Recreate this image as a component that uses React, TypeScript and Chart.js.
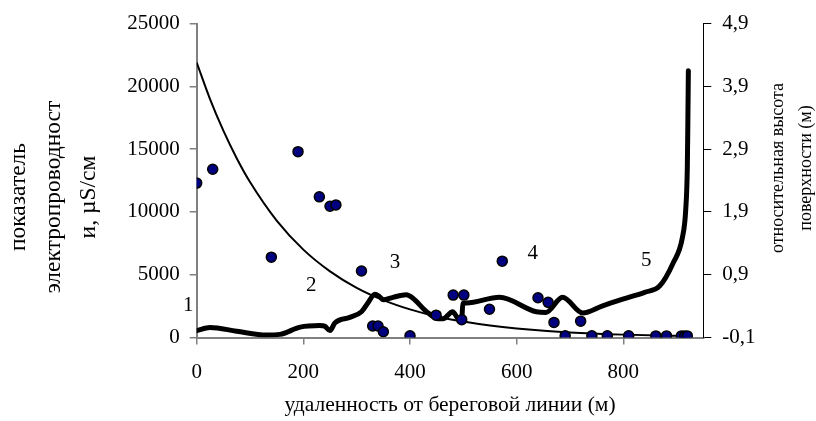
import React, { useEffect, useRef } from "react";
import { Chart, registerables } from "chart.js";

Chart.register(...registerables);

// Measured conductivity points (distance m, µS/cm)
const pointDistance = [0, 30, 140, 190, 230, 250, 261, 309, 330, 340, 350, 400, 449, 481, 497, 501, 549, 573, 640, 659, 670, 691, 720, 741, 770, 810, 861, 881, 909, 915, 920];
const pointConductivity = [12300, 13400, 6400, 14800, 11200, 10450, 10560, 5300, 920, 920, 460, 130, 1780, 3380, 1420, 3380, 2250, 6080, 3170, 2800, 1200, 130, 1300, 130, 130, 130, 125, 125, 125, 125, 125];

// Exponential trend line
const trendDistance = [0, 25, 50, 75, 100, 150, 200, 250, 300, 350, 400, 450, 500, 550, 600, 700, 800, 900, 920];
const trendConductivity = [21900, 18990, 16470, 14280, 12380, 9310, 7000, 5270, 3960, 2980, 2240, 1680, 1270, 950, 720, 405, 229, 130, 116];

// Relative surface height (secondary axis, m)
const heightDistance = [0, 25, 75, 131, 156, 194, 231, 240, 250, 259, 287, 309, 321, 334, 343, 350, 368, 393, 405, 430, 452, 462, 480, 490, 497, 499, 506, 568, 637, 655, 686, 724, 760, 799, 840, 868, 893, 911, 917, 920, 921, 922];
const heightValue = [0.01, 0.06, 0.0, -0.06, -0.05, 0.065, 0.09, 0.08, 0.01, 0.13, 0.22, 0.31, 0.45, 0.59, 0.55, 0.5, 0.54, 0.58, 0.53, 0.32, 0.2, 0.2, 0.31, 0.2, 0.18, 0.44, 0.45, 0.54, 0.31, 0.3, 0.54, 0.29, 0.4, 0.51, 0.62, 0.72, 1.08, 1.5, 1.93, 2.6, 3.3, 4.15];

const xTicks = [0, 200, 400, 600, 800];
const leftTicks = [0, 5000, 10000, 15000, 20000, 25000];
const rightTicks = [-0.1, 0.9, 1.9, 2.9, 3.9, 4.9];

const zoneLabels = ["1", "2", "3", "4", "5"];
const zoneDistance = [-16, 215, 372, 630, 843];
const zoneConductivity = [2580, 4110, 5940, 6680, 6150];

const xTitle = "удаленность от береговой линии (м)";
const leftTitle = ["показатель", "электропроводност", "и, µS/см"];
const rightTitle = ["относительная высота", "поверхности (м)"];

const FONT = "'Liberation Serif', 'Times New Roman', serif";

const textPlugin = {
  id: "textPlugin",
  afterDraw(chart: any) {
    const ctx = chart.ctx;
    const xs = chart.scales.x;
    const ys = chart.scales.y;
    ctx.save();
    ctx.fillStyle = "#000";
    ctx.font = `21px ${FONT}`;
    ctx.textAlign = "center";
    ctx.textBaseline = "middle";
    zoneLabels.forEach((t, i) => {
      ctx.fillText(t, xs.getPixelForValue(zoneDistance[i]), ys.getPixelForValue(zoneConductivity[i]));
    });

    // x title
    ctx.font = `21.5px ${FONT}`;
    ctx.fillText(xTitle, (chart.chartArea.left + chart.chartArea.right) / 2, 405);

    // left title (rotated)
    ctx.textBaseline = "alphabetic";
    ctx.font = `23.5px ${FONT}`;
    const leftBase = [25, 60, 95];
    leftTitle.forEach((t, i) => {
      ctx.save();
      ctx.translate(leftBase[i], 197);
      ctx.rotate(-Math.PI / 2);
      ctx.fillText(t, 0, 0);
      ctx.restore();
    });

    // right title (rotated)
    ctx.font = `18px ${FONT}`;
    const rightBase = [783, 811];
    rightTitle.forEach((t, i) => {
      ctx.save();
      ctx.translate(rightBase[i], 168);
      ctx.rotate(-Math.PI / 2);
      ctx.fillText(t, 0, 0);
      ctx.restore();
    });
    ctx.restore();
  },
};

export default function App() {
  const ref = useRef<HTMLCanvasElement>(null);

  useEffect(() => {
    if (!ref.current) return;
    const tickFont = { family: FONT, size: 21 };
    const chart = new Chart(ref.current, {
      type: "scatter",
      data: {
        datasets: [
          {
            label: "conductivity",
            data: pointDistance.map((x, i) => ({ x, y: pointConductivity[i] })),
            yAxisID: "y",
            showLine: false,
            pointRadius: 5,
            pointBorderWidth: 1.5,
            pointBackgroundColor: "#000080",
            pointBorderColor: "#000000",
            order: 0,
          },
          {
            label: "trend",
            data: trendDistance.map((x, i) => ({ x, y: trendConductivity[i] })),
            yAxisID: "y",
            showLine: true,
            pointRadius: 0,
            borderWidth: 2,
            borderColor: "#000000",
            cubicInterpolationMode: "monotone",
            order: 2,
          },
          {
            label: "height",
            data: heightDistance.map((x, i) => ({ x, y: heightValue[i] })),
            yAxisID: "y1",
            showLine: true,
            pointRadius: 0,
            borderWidth: 5,
            borderColor: "#000000",
            borderCapStyle: "round",
            borderJoinStyle: "round",
            cubicInterpolationMode: "monotone",
            order: 1,
          },
        ],
      },
      options: {
        animation: false,
        responsive: false,
        devicePixelRatio: 1,
        layout: { padding: { top: 22.5, left: 0, right: 0, bottom: 0 } },
        plugins: { legend: { display: false }, tooltip: { enabled: false } },
        scales: {
          x: {
            type: "linear",
            position: "bottom",
            min: 0,
            max: 950,
            afterBuildTicks: (s: any) => {
              s.ticks = xTicks.map((value) => ({ value }));
            },
            afterFit: (s: any) => {
              s.height = 83.5;
            },
            ticks: { font: tickFont, color: "#000", padding: 15, maxRotation: 0, callback: (v: any) => String(v) },
            grid: { drawOnChartArea: false, tickLength: 7, color: "#808080", lineWidth: 1.5 },
            border: { color: "#808080", width: 2 },
          },
          y: {
            type: "linear",
            position: "left",
            min: 0,
            max: 25000,
            afterBuildTicks: (s: any) => {
              s.ticks = leftTicks.map((value) => ({ value }));
            },
            afterFit: (s: any) => {
              s.width = 196.7;
            },
            ticks: { font: tickFont, color: "#000", padding: 10, callback: (v: any) => String(v) },
            grid: { drawOnChartArea: false, tickLength: 7, color: "#808080", lineWidth: 1.5 },
            border: { color: "#808080", width: 2 },
          },
          y1: {
            type: "linear",
            position: "right",
            min: -0.1,
            max: 4.9,
            afterBuildTicks: (s: any) => {
              s.ticks = rightTicks.map((value) => ({ value }));
            },
            afterFit: (s: any) => {
              s.width = 816 - 703.3;
            },
            ticks: {
              font: tickFont,
              color: "#000",
              padding: 11,
              callback: (v: any) => Number(v).toFixed(1).replace(".", ","),
            },
            grid: { drawOnChartArea: false, tickLength: 8, color: "#000", lineWidth: 1 },
            border: { color: "#000", width: 1 },
          },
        },
      },
      plugins: [textPlugin],
    } as any);
    return () => chart.destroy();
  }, []);

  return (
    <div style={{ position: "absolute", left: 0, top: 0, width: 816, height: 421, background: "#fff" }}>
      <canvas ref={ref} width={816} height={421} style={{ display: "block" }} />
    </div>
  );
}
